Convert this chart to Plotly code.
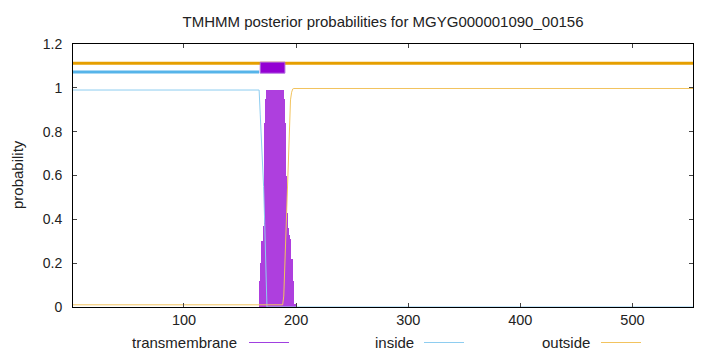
import plotly.graph_objects as go

# ---- data ----
seq_len = 554

# topology regions (start, end)
inside_region = (1, 167)
tm_region = (168, 190)
outside_region = (1, 554)

# posterior probability of transmembrane, per residue
tm_pos = [168, 169, 170, 171, 172, 173, 174, 175, 176, 177, 178, 179, 180, 181,
          182, 183, 184, 185, 186, 187, 188, 189, 190, 191, 192, 193, 194, 195,
          196, 197, 199]
tm_prob = [0.12, 0.20, 0.30, 0.37, 0.84, 0.95, 0.99, 0.99, 0.99, 0.99, 0.99, 0.99,
           0.99, 0.99, 0.99, 0.99, 0.99, 0.99, 0.99, 0.99, 0.99, 0.95, 0.84, 0.60,
           0.43, 0.36, 0.33, 0.31, 0.22, 0.12, 0.015]

# posterior probability of inside
inside_pos = [1, 167, 168, 169, 170, 171, 172, 173, 174, 554]
inside_prob = [0.99, 0.99, 0.88, 0.78, 0.69, 0.55, 0.38, 0.10, 0.0, 0.0]

# posterior probability of outside
outside_pos = [1, 188, 189, 190, 191, 192, 193, 194, 195, 196, 197, 198, 554]
outside_prob = [0.01, 0.01, 0.05, 0.20, 0.41, 0.55, 0.67, 0.82, 0.945, 0.98, 0.995, 0.997, 0.997]

# levels of the topology bars
outside_level = 1.112
inside_level = 1.072
tm_box = (1.067, 1.117)

x_ticks = [100, 200, 300, 400, 500]
y_ticks = [0, 0.2, 0.4, 0.6, 0.8, 1.0, 1.2]
y_labels = ["0", "0.2", "0.4", "0.6", "0.8", "1", "1.2"]

title = "TMHMM posterior probabilities for MGYG000001090_00156"

PURPLE = "#9400D3"
BLUE = "#56B4E9"
ORANGE = "#E69F00"
FONT = "Liberation Sans, Arial, sans-serif"

fig = go.Figure()

# transmembrane impulses
fig.add_trace(go.Bar(x=tm_pos, y=tm_prob, width=1.0,
                     marker=dict(color=PURPLE, line=dict(width=0)),
                     opacity=0.75, hoverinfo="skip", showlegend=False))

# inside / outside thin lines
fig.add_trace(go.Scatter(x=inside_pos, y=inside_prob, mode="lines",
                         line=dict(color="#8ecdf0", width=1),
                         hoverinfo="skip", showlegend=False))
fig.add_trace(go.Scatter(x=outside_pos, y=outside_prob, mode="lines",
                         line=dict(color="#f2c35e", width=1),
                         hoverinfo="skip", showlegend=False))

# topology bars
fig.add_trace(go.Scatter(x=[outside_region[0], outside_region[1]],
                         y=[outside_level, outside_level], mode="lines",
                         line=dict(color=ORANGE, width=3),
                         hoverinfo="skip", showlegend=False))
fig.add_trace(go.Scatter(x=[inside_region[0], inside_region[1]],
                         y=[inside_level, inside_level], mode="lines",
                         line=dict(color=BLUE, width=3),
                         hoverinfo="skip", showlegend=False))
fig.add_trace(go.Scatter(x=[tm_region[0], tm_region[1], tm_region[1], tm_region[0], tm_region[0]],
                         y=[tm_box[0], tm_box[0], tm_box[1], tm_box[1], tm_box[0]],
                         mode="lines", fill="toself", fillcolor=PURPLE,
                         line=dict(color="#b064e0", width=1),
                         hoverinfo="skip", showlegend=False))

# legend (gnuplot style: text then sample line)
L, R, T, B = 73, 693, 44, 307
def px(x):
    return (x - L) / (R - L)
def py(y):
    return (B - y) / (B - T)

legend_items = [("transmembrane", 239, 249, 289, "#a040e0"),
                ("inside", 416, 424, 464, "#8ecdf0"),
                ("outside", 592, 601, 641, "#f2c35e")]
ly = 342
for name, tx, x0, x1, col in legend_items:
    fig.add_annotation(x=px(tx), y=py(ly), xref="paper", yref="paper",
                       text=name, showarrow=False, xanchor="right", yanchor="middle",
                       xshift=0, font=dict(size=15, color="#222222", family=FONT))
    fig.add_shape(type="line", xref="paper", yref="paper",
                  x0=px(x0), x1=px(x1), y0=py(ly + 0.5), y1=py(ly + 0.5),
                  line=dict(color=col, width=1))

# y-axis title
fig.add_annotation(x=px(17), y=py(175), xref="paper", yref="paper",
                   text="probability", textangle=-90, showarrow=False,
                   xanchor="center", yanchor="middle",
                   font=dict(size=15, color="#222222", family=FONT))

fig.update_layout(
    width=720, height=352,
    margin=dict(l=L, r=720 - R, t=T, b=352 - B),
    plot_bgcolor="white", paper_bgcolor="white",
    font=dict(family=FONT, size=14, color="#222222"),
    title=dict(text=title, x=383 / 720, xanchor="center",
               y=1 - 22 / 352, yanchor="middle",
               font=dict(size=15, family=FONT, color="#222222")),
    showlegend=False,
    bargap=0,
    xaxis=dict(range=[1, seq_len], tickvals=x_ticks, ticks="inside", ticklen=4,
               tickcolor="#444444", showline=True, linecolor="black", linewidth=1,
               mirror="ticks", showgrid=False, zeroline=False,
               tickfont=dict(size=14.5)),
    yaxis=dict(range=[0, 1.2], tickvals=y_ticks, ticktext=y_labels, ticks="inside",
               ticklen=4, tickcolor="#444444", showline=True, linecolor="black",
               linewidth=1, mirror="ticks", showgrid=False, zeroline=False,
               ticklabelstandoff=7, tickfont=dict(size=14)),
)

fig.write_html("out.html")
